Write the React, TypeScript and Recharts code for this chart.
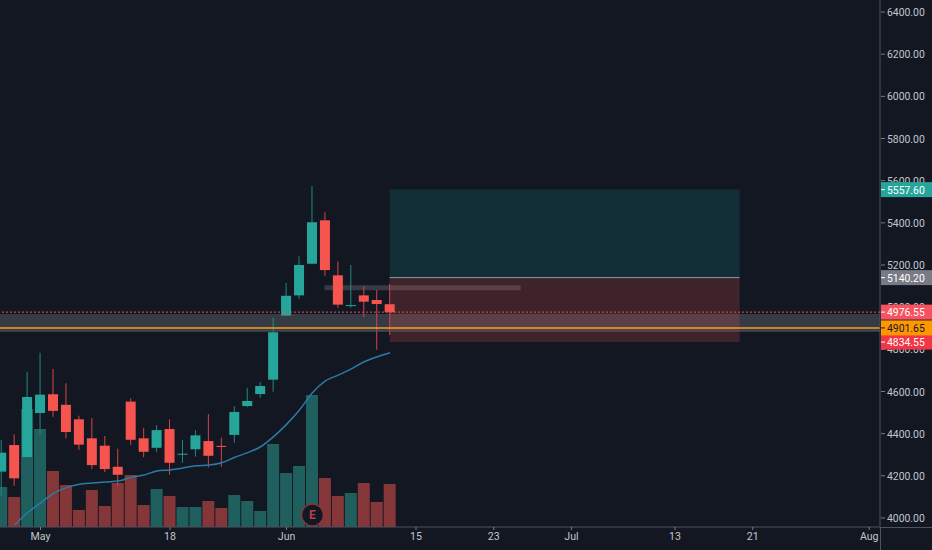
import { Bar, ComposedChart, Line, ReferenceArea, ReferenceDot, ReferenceLine, XAxis, YAxis } from 'recharts'

const opens = [4220, 4346, 4289, 4498, 4587, 4537, 4468, 4378, 4343, 4243, 4552, 4378, 4333, 4422, 4302, 4326, 4365, 4342, 4394, 4531, 4588, 4656, 4960, 5056, 5206, 5412, 5151, 5006, 5056, 5034, 5014]
const closes = [4310, 4188, 4574, 4585, 4508, 4408, 4348, 4251, 4232, 4205, 4371, 4314, 4417, 4262, 4305, 4392, 4295, 4339, 4503, 4555, 4626, 4881, 5054, 5200, 5403, 5176, 5012, 5010, 5026, 5015, 4976]
const highs = [4370, 4397, 4694, 4784, 4707, 4639, 4485, 4474, 4389, 4329, 4568, 4427, 4441, 4468, 4370, 4416, 4493, 4381, 4530, 4617, 4645, 4950, 5115, 5241, 5575, 5450, 5216, 5200, 5100, 5081, 5111]
const lows = [4106, 4153, 4289, 4398, 4480, 4378, 4323, 4232, 4218, 4150, 4346, 4288, 4314, 4205, 4262, 4291, 4240, 4243, 4357, 4526, 4571, 4599, 4960, 5039, 5206, 5149, 4997, 4997, 4953, 4798, 4869]
const volumes = [40, 30, 118, 98, 56, 42, 17, 37, 21, 44, 52, 22, 38, 31, 20, 20, 26, 19, 32, 26, 16, 83, 54, 61, 132, 49, 31, 34, 44, 25, 43]
const movingAvg = [null, 3967, 4025, 4071, 4117, 4144, 4160, 4166, 4171, 4175, 4193, 4204, 4223, 4228, 4237, 4248, 4251, 4262, 4288, 4310, 4338, 4386, 4444, 4512, 4594, 4650, 4678, 4707, 4741, 4765, 4784]

const timeTicks = [3, 13, 22, 32, 38, 44, 52, 58, 67]
const timeLabels = ['May', '18', 'Jun', '15', '23', 'Jul', '13', '21', 'Aug']
const priceTicks = [4000, 4200, 4400, 4600, 4800, 5000, 5200, 5400, 5600, 5800, 6000, 6200, 6400]

const tags = [
  { value: 5557.6, bg: '#26a69a', fg: '#ffffff' },
  { value: 5140.2, bg: '#787b86', fg: '#ffffff' },
  { value: 4976.55, bg: '#f7525f', fg: '#ffffff' },
  { value: 4834.55, bg: '#f23645', fg: '#ffffff' },
  { value: 4901.65, bg: '#ff9800', fg: '#131722' },
]

const data = opens.map((open, i) => ({
  i,
  open,
  close: closes[i],
  high: highs[i],
  low: lows[i],
  volume: volumes[i],
  ma: movingAvg[i],
  range: [lows[i], highs[i]],
}))

const xDomain = [-0.13, 67.83]
const priceDomain = [3957.3, 6457]
const font = 'Roboto, "Noto Sans", sans-serif'

function Candle(props: any) {
  const { x, y, width, height, payload } = props
  const up = payload.close >= payload.open
  const color = up ? '#26a69a' : '#f6544f'
  const unit = height / (payload.high - payload.low)
  const top = y + (payload.high - Math.max(payload.open, payload.close)) * unit
  const bodyH = Math.max(Math.abs(payload.open - payload.close) * unit, 1)
  const mid = x + width / 2
  return (
    <g>
      <line x1={mid} x2={mid} y1={y} y2={y + height} stroke={up ? '#1f8a81' : '#d5444a'} strokeWidth={1} />
      <rect x={x} y={top} width={width} height={bodyH} fill={color} />
    </g>
  )
}

function VolumeBar(props: any) {
  const { x, y, width, height, payload } = props
  const up = payload.close >= payload.open
  return <rect x={x} y={y} width={width} height={height} fill={up ? '#1f5f5e' : '#853639'} />
}

function PriceTick(props: any) {
  const { y, payload } = props
  const tag = tags.find((t) => t.value === payload.value)
  const label = payload.value.toFixed(2)
  return (
    <g fontFamily={font} fontSize={10.4}>
      {tag && <rect x={881} y={y - 7.5} width={51} height={15} fill={tag.bg} />}
      <line x1={881} x2={885} y1={y} y2={y} stroke={tag ? tag.fg : '#787b86'} />
      <text x={887} y={y + 4} fill={tag ? tag.fg : '#c3c5cc'}>{label}</text>
    </g>
  )
}

export default function App() {
  return (
    <div style={{ position: 'fixed', left: 0, top: 0, width: 932, height: 550, background: '#131722', overflow: 'hidden' }}>
      <ComposedChart width={932} height={550} data={data} margin={{ top: 0, right: 0, bottom: 0, left: 0 }}>
        <XAxis
          xAxisId="time"
          dataKey="i"
          type="number"
          domain={xDomain}
          allowDataOverflow
          ticks={timeTicks}
          interval={0}
          height={23}
          tickFormatter={(v) => timeLabels[timeTicks.indexOf(v)]}
          tick={{ fill: '#c3c5cc', fontSize: 10.6, fontFamily: font }}
          tickLine={{ stroke: '#787b86' }}
          tickSize={3}
          axisLine={{ stroke: '#4c525e' }}
        />
        <XAxis xAxisId="vol" dataKey="i" type="number" domain={xDomain} allowDataOverflow hide />
        <YAxis
          yAxisId="price"
          orientation="right"
          width={52}
          domain={priceDomain}
          allowDataOverflow
          ticks={[...priceTicks, ...tags.map((t) => t.value)]}
          interval={0}
          tick={PriceTick}
          tickLine={false}
          axisLine={{ stroke: '#4c525e' }}
        />
        <YAxis yAxisId="volume" hide domain={[0, 527]} />

        <Bar xAxisId="vol" yAxisId="volume" dataKey="volume" barSize={12} shape={VolumeBar} isAnimationActive={false} />
        <Bar xAxisId="time" yAxisId="price" dataKey="range" barSize={10} shape={Candle} isAnimationActive={false} />
        <Line xAxisId="time" yAxisId="price" dataKey="ma" type="monotone" stroke="#2b7ba6" strokeWidth={1.5} dot={false} connectNulls={false} isAnimationActive={false} />

        <ReferenceArea xAxisId="time" yAxisId="price" x1={-0.13} x2={67.83} y1={4883} y2={4967.6} fill="#787b86" fillOpacity={0.35} stroke="none" />
        <ReferenceArea xAxisId="time" yAxisId="price" x1={24.94} x2={40.08} y1={5080} y2={5103.7} fill="#787b86" fillOpacity={0.35} stroke="none" />
        <ReferenceArea xAxisId="time" yAxisId="price" x1={29.96} x2={56.99} y1={5140.2} y2={5557.6} fill="#0fa0a0" fillOpacity={0.17} stroke="none" />
        <ReferenceArea xAxisId="time" yAxisId="price" x1={29.96} x2={56.99} y1={4834.55} y2={5140.2} fill="#ef5350" fillOpacity={0.2} stroke="none" />
        <ReferenceLine
          xAxisId="time"
          yAxisId="price"
          segment={[{ x: 29.96, y: 5140.2 }, { x: 56.99, y: 5140.2 }]}
          stroke="#9598a1"
        />
        <ReferenceLine xAxisId="time" yAxisId="price" y={4976.55} stroke="#ef5350" strokeDasharray="2 2" />
        <ReferenceLine xAxisId="time" yAxisId="price" y={4888} stroke="#4a4e59" />
        <ReferenceLine xAxisId="time" yAxisId="price" y={4901.65} stroke="#f7a11a" strokeWidth={1.5} />
        <ReferenceDot
          xAxisId="time"
          yAxisId="price"
          x={24}
          y={4014}
          r={11}
          fill="#131722"
          stroke="#853639"
          strokeWidth={1.5}
          label={{ value: 'E', fill: '#b8404a', fontSize: 12, fontWeight: 700, fontFamily: font, position: 'center' }}
        />
      </ComposedChart>
      <div style={{ position: 'absolute', left: 880, top: 527, width: 52, height: 1, background: '#4c525e' }} />
      <div style={{ position: 'absolute', left: 880, top: 527, width: 1, height: 23, background: '#4c525e' }} />
    </div>
  )
}
